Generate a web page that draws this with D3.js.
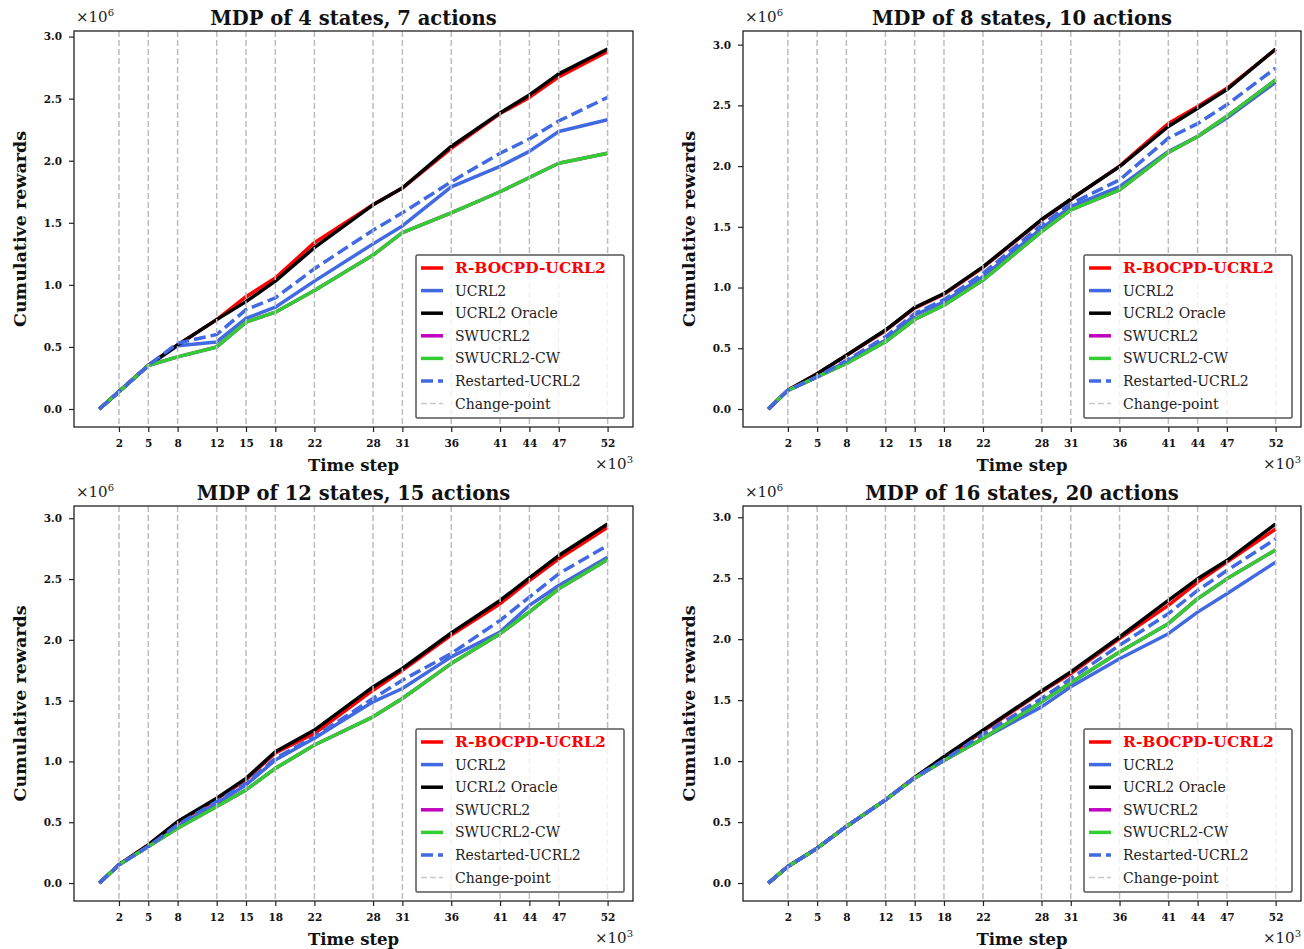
<!DOCTYPE html>
<html>
<head>
<meta charset="utf-8">
<title>Cumulative rewards</title>
<style>
    body { margin: 0; background: #fff; }
    svg { display: block; }
    .tick-label { font-family: "DejaVu Serif", serif; font-weight: bold; font-size: 10.5px; fill: #111; }
    .title { font-family: "DejaVu Serif", serif; font-size: 19.5px; font-weight: bold; fill: #111; }
    .axis-label { font-family: "DejaVu Serif", serif; font-size: 16.5px; font-weight: bold; fill: #111; }
    .legend-text { font-family: "DejaVu Serif", serif; font-size: 14px; fill: #222; }
    .mult { font-family: "DejaVu Serif", serif; font-size: 15px; fill: #222; }
</style>
</head>
<body>
<div id="chart"></div>
<script src="https://d3js.org/d3.v7.min.js"></script>
<script>
    // time steps (x10^3) where values were read; also the change-points
    const steps = [0, 2, 5, 8, 12, 15, 18, 22, 28, 31, 36, 41, 44, 47, 52];
    const changePoints = [2, 5, 8, 12, 15, 18, 22, 28, 31, 36, 41, 44, 47, 52];
    const yTicks = [0, 0.5, 1.0, 1.5, 2.0, 2.5, 3.0];

    const titles = [
        "MDP of 4 states, 7 actions",
        "MDP of 8 states, 10 actions",
        "MDP of 12 states, 15 actions",
        "MDP of 16 states, 20 actions"
    ];

    // cumulative rewards, x10^6
    const rbocpd1 = [0, 0.14, 0.35, 0.516, 0.72, 0.905, 1.055, 1.34, 1.645, 1.78, 2.10, 2.38, 2.51, 2.675, 2.88];
    const ucrl1 = [0, 0.14, 0.35, 0.51, 0.54, 0.73, 0.82, 1.03, 1.33, 1.475, 1.79, 1.955, 2.075, 2.235, 2.33];
    const oracle1 = [0, 0.14, 0.35, 0.516, 0.72, 0.865, 1.03, 1.30, 1.645, 1.78, 2.115, 2.385, 2.53, 2.70, 2.90];
    const swucrl1 = [0, 0.14, 0.35, 0.42, 0.50, 0.70, 0.78, 0.955, 1.24, 1.42, 1.58, 1.75, 1.865, 1.98, 2.06];
    const swcw1 = [0, 0.14, 0.35, 0.42, 0.50, 0.70, 0.78, 0.955, 1.24, 1.42, 1.58, 1.75, 1.865, 1.98, 2.06];
    const restart1 = [0, 0.14, 0.35, 0.53, 0.60, 0.80, 0.895, 1.13, 1.44, 1.58, 1.83, 2.06, 2.175, 2.32, 2.51];

    const rbocpd2 = [0, 0.154, 0.29, 0.44, 0.645, 0.83, 0.945, 1.165, 1.555, 1.725, 2.00, 2.35, 2.49, 2.64, 2.96];
    const ucrl2 = [0, 0.154, 0.264, 0.39, 0.566, 0.773, 0.883, 1.089, 1.487, 1.666, 1.83, 2.12, 2.244, 2.395, 2.69];
    const oracle2 = [0, 0.154, 0.29, 0.443, 0.65, 0.836, 0.95, 1.17, 1.56, 1.727, 1.996, 2.326, 2.477, 2.63, 2.964];
    const swucrl2 = [0, 0.154, 0.264, 0.375, 0.553, 0.737, 0.855, 1.061, 1.46, 1.639, 1.804, 2.112, 2.244, 2.41, 2.71];
    const swcw2 = [0, 0.154, 0.264, 0.375, 0.553, 0.737, 0.855, 1.061, 1.46, 1.639, 1.804, 2.112, 2.244, 2.41, 2.71];
    const restart2 = [0, 0.154, 0.264, 0.40, 0.594, 0.786, 0.90, 1.116, 1.515, 1.69, 1.886, 2.23, 2.35, 2.505, 2.807];

    const rbocpd3 = [0, 0.15, 0.314, 0.50, 0.69, 0.85, 1.07, 1.23, 1.586, 1.75, 2.04, 2.297, 2.488, 2.666, 2.926];
    const ucrl3 = [0, 0.15, 0.30, 0.465, 0.656, 0.807, 1.012, 1.19, 1.49, 1.60, 1.86, 2.065, 2.283, 2.447, 2.68];
    const oracle3 = [0, 0.15, 0.314, 0.506, 0.697, 0.861, 1.08, 1.258, 1.613, 1.764, 2.056, 2.324, 2.51, 2.693, 2.953];
    const swucrl3 = [0, 0.15, 0.30, 0.451, 0.629, 0.766, 0.943, 1.135, 1.367, 1.518, 1.805, 2.051, 2.229, 2.42, 2.661];
    const swcw3 = [0, 0.15, 0.30, 0.451, 0.629, 0.766, 0.943, 1.135, 1.367, 1.518, 1.805, 2.051, 2.229, 2.42, 2.661];
    const restart3 = [0, 0.15, 0.30, 0.479, 0.67, 0.82, 1.025, 1.203, 1.518, 1.668, 1.887, 2.16, 2.352, 2.543, 2.776];

    const rbocpd4 = [0, 0.136, 0.286, 0.464, 0.682, 0.867, 1.02, 1.245, 1.568, 1.718, 2.004, 2.277, 2.468, 2.632, 2.904];
    const ucrl4 = [0, 0.136, 0.286, 0.464, 0.682, 0.86, 1.005, 1.186, 1.445, 1.609, 1.84, 2.045, 2.222, 2.373, 2.632];
    const oracle4 = [0, 0.136, 0.286, 0.464, 0.682, 0.867, 1.036, 1.254, 1.575, 1.732, 2.018, 2.318, 2.495, 2.645, 2.945];
    const swucrl4 = [0, 0.136, 0.286, 0.464, 0.682, 0.86, 1.005, 1.186, 1.486, 1.642, 1.895, 2.127, 2.332, 2.495, 2.732];
    const swcw4 = [0, 0.136, 0.286, 0.464, 0.682, 0.86, 1.005, 1.186, 1.486, 1.642, 1.895, 2.127, 2.332, 2.495, 2.732];
    const restart4 = [0, 0.136, 0.286, 0.464, 0.682, 0.865, 1.01, 1.22, 1.513, 1.677, 1.95, 2.209, 2.40, 2.563, 2.822];

    const seriesNames = ["R-BOCPD-UCRL2", "UCRL2", "UCRL2 Oracle", "SWUCRL2", "SWUCRL2-CW", "Restarted-UCRL2"];
    const seriesColors = ["#ff0000", "#4169e1", "#000000", "#bf00bf", "#32cd32", "#4169e1"];
    const seriesDashed = [false, false, false, false, false, true];

    const panelData = [
        [rbocpd1, ucrl1, oracle1, swucrl1, swcw1, restart1],
        [rbocpd2, ucrl2, oracle2, swucrl2, swcw2, restart2],
        [rbocpd3, ucrl3, oracle3, swucrl3, swcw3, restart3],
        [rbocpd4, ucrl4, oracle4, swucrl4, swcw4, restart4]
    ];

    const panelBoxes = [
        { left: 74, top: 31, right: 633, bottom: 427 },
        { left: 743, top: 31, right: 1301, bottom: 427 },
        { left: 74, top: 506, right: 633, bottom: 901 },
        { left: 743, top: 506, right: 1301, bottom: 901 }
    ];

    const svg = d3.select('#chart').append('svg')
        .attr('width', 1304)
        .attr('height', 949);

    panelBoxes.forEach((box, i) => drawPanel(box, titles[i], panelData[i]));

    function drawPanel(box, title, data) {
        const g = svg.append('g');
        const ymax = d3.max(data.flat());

        const x = d3.scaleLinear().domain([-0.05 * 52, 52 * 1.05]).range([box.left, box.right]);
        const y = d3.scaleLinear().domain([-0.05 * ymax, ymax * 1.05]).range([box.bottom, box.top]);

        const clipId = 'clip' + box.left + '_' + box.top;
        g.append('clipPath').attr('id', clipId)
            .append('rect')
            .attr('x', box.left).attr('y', box.top)
            .attr('width', box.right - box.left).attr('height', box.bottom - box.top);

        const plot = g.append('g').attr('clip-path', 'url(#' + clipId + ')');

        const line = d3.line()
            .x((d, j) => x(steps[j]))
            .y(d => y(d));

        data.forEach((values, k) => {
            plot.append('path')
                .datum(values)
                .attr('d', line)
                .attr('fill', 'none')
                .attr('stroke', seriesColors[k])
                .attr('stroke-width', 3.5)
                .attr('stroke-linejoin', 'round')
                .attr('stroke-dasharray', seriesDashed[k] ? '12,5' : null);
        });

        // change-points on top of the curves
        plot.selectAll('line.cp')
            .data(changePoints)
            .enter().append('line')
            .attr('class', 'cp')
            .attr('x1', d => x(d)).attr('x2', d => x(d))
            .attr('y1', box.top).attr('y2', box.bottom)
            .attr('stroke', '#bdbdbd')
            .attr('stroke-width', 1.5)
            .attr('stroke-dasharray', '6,3');

        // axes
        const xAxis = d3.axisBottom(x).tickValues(changePoints).tickSize(5).tickPadding(8).tickFormat(d3.format('d'));
        const yAxis = d3.axisLeft(y).tickValues(yTicks).tickSize(5).tickPadding(7).tickFormat(d3.format('.1f'));

        const gx = g.append('g').attr('transform', 'translate(0,' + box.bottom + ')').call(xAxis);
        const gy = g.append('g').attr('transform', 'translate(' + box.left + ',0)').call(yAxis);
        [gx, gy].forEach(a => {
            a.select('.domain').remove();
            a.selectAll('.tick line').attr('stroke', '#222').attr('stroke-width', 1.2);
            a.selectAll('.tick text').attr('class', 'tick-label').attr('font-family', null).attr('font-size', null);
        });

        g.append('rect')
            .attr('x', box.left).attr('y', box.top)
            .attr('width', box.right - box.left).attr('height', box.bottom - box.top)
            .attr('fill', 'none')
            .attr('stroke', '#222')
            .attr('stroke-width', 1.3);

        const cx = (box.left + box.right) / 2;
        g.append('text').attr('class', 'title')
            .attr('x', cx).attr('y', box.top - 6)
            .attr('text-anchor', 'middle')
            .text(title);

        g.append('text').attr('class', 'axis-label')
            .attr('x', cx).attr('y', box.bottom + 44)
            .attr('text-anchor', 'middle')
            .text('Time step');

        g.append('text').attr('class', 'axis-label')
            .attr('transform', 'translate(' + (box.left - 48) + ',' + ((box.top + box.bottom) / 2) + ') rotate(-90)')
            .attr('text-anchor', 'middle')
            .style('font-size', '17.5px')
            .text('Cumulative rewards');

        // scale multipliers
        const m6 = g.append('text').attr('class', 'mult')
            .attr('x', box.left + 2).attr('y', box.top - 9);
        m6.append('tspan').text('×10');
        m6.append('tspan').attr('dy', -6).style('font-size', '10px').text('6');

        const m3 = g.append('text').attr('class', 'mult')
            .attr('x', box.right).attr('y', box.bottom + 42)
            .attr('text-anchor', 'end');
        m3.append('tspan').text('×10');
        m3.append('tspan').attr('dy', -6).style('font-size', '10px').text('3');

        // legend
        const lw = 208, lh = 163;
        const lx = box.right - 9 - lw, ly = box.bottom - 9 - lh;
        const leg = g.append('g');
        leg.append('rect')
            .attr('x', lx).attr('y', ly)
            .attr('width', lw).attr('height', lh)
            .attr('rx', 1.5)
            .attr('fill', 'rgba(255,255,255,0.8)')
            .attr('stroke', '#555')
            .attr('stroke-width', 1.5);

        const names = seriesNames.concat(['Change-point']);
        names.forEach((name, k) => {
            const yy = ly + 13 + k * 22.6;
            const isCp = k === names.length - 1;
            leg.append('line')
                .attr('x1', lx + 5).attr('x2', lx + 27)
                .attr('y1', yy).attr('y2', yy)
                .attr('stroke', isCp ? '#c8c8c8' : seriesColors[k])
                .attr('stroke-width', isCp ? 1.5 : 3.5)
                .attr('stroke-dasharray', isCp ? '6,3' : (seriesDashed[k] ? '12,5' : null));
            leg.append('text').attr('class', 'legend-text')
                .attr('x', lx + 39).attr('y', yy + 5)
                .style('fill', k === 0 ? '#ff0000' : null)
                .style('font-weight', k === 0 ? 'bold' : null)
                .style('font-size', k === 0 ? '15.5px' : null)
                .text(name);
        });
    }
</script>
</body>
</html>
